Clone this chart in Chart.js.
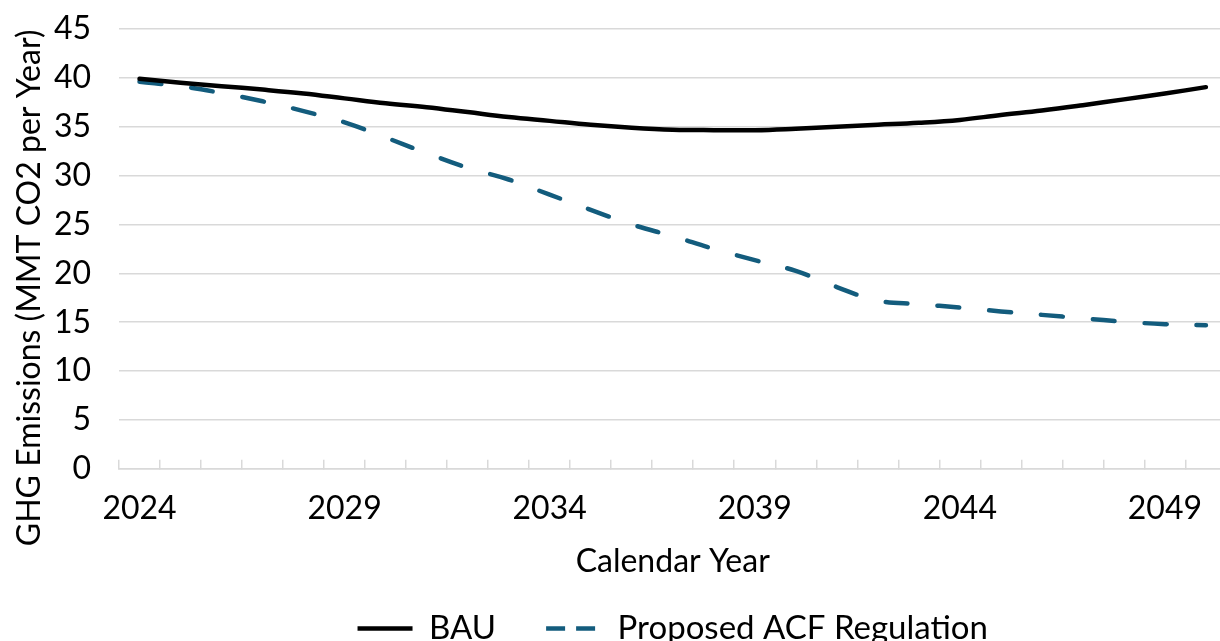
<!DOCTYPE html>
<html>
<head>
<meta charset="utf-8">
<script src="https://cdn.jsdelivr.net/npm/chart.js@4.4.1/dist/chart.umd.min.js"></script>
<style>
  html, body { margin: 0; padding: 0; background: #fff; overflow: hidden; }
  #wrap { position: relative; width: 1240px; height: 660px; }
</style>
</head>
<body>
<div id="wrap"><canvas id="ghgChart"></canvas></div>
<script>
const years = ['2024', '2025', '2026', '2027', '2028', '2029', '2030', '2031', '2032', '2033',
  '2034', '2035', '2036', '2037', '2038', '2039', '2040', '2041', '2042', '2043',
  '2044', '2045', '2046', '2047', '2048', '2049', '2050'];
const bau = [39.9, 39.5, 39.15, 38.8, 38.4, 37.9, 37.4, 37.0, 36.5, 36.0,
  35.6, 35.2, 34.9, 34.7, 34.65, 34.65, 34.8, 35.0, 35.2, 35.4,
  35.7, 36.2, 36.65, 37.2, 37.8, 38.4, 39.05];
const acf = [39.6, 39.15, 38.45, 37.6, 36.6, 35.45, 33.9, 32.3, 30.8, 29.6,
  28.05, 26.5, 25.0, 23.8, 22.5, 21.35, 20.25, 18.6, 17.2, 16.85,
  16.5, 16.1, 15.75, 15.4, 15.05, 14.8, 14.7];
const yTicks = [0, 5, 10, 15, 20, 25, 30, 35, 40, 45];
const xTitle = 'Calendar Year';
const yTitle = 'GHG Emissions (MMT CO2 per Year)';

const FONT = 'Lato, "Open Sans", sans-serif';
const FS = 32;

// y title is drawn by hand so it can sit lower than the plot centre, as in the original
const yTitlePlugin = {
  id: 'yTitle',
  afterDraw(chart) {
    const { ctx, chartArea } = chart;
    ctx.save();
    ctx.translate(30, (chartArea.top + chartArea.bottom) / 2 + 39);
    ctx.rotate(-Math.PI / 2);
    ctx.font = '32px ' + FONT;
    ctx.fillStyle = '#000';
    ctx.textAlign = 'center';
    ctx.textBaseline = 'middle';
    ctx.fillText(yTitle, 0, 0);
    ctx.restore();
  }
};

new Chart(document.getElementById('ghgChart'), {
  type: 'line',
  data: {
    labels: years,
    datasets: [
      { label: 'BAU', data: bau, borderColor: '#000', borderWidth: 4.5, pointRadius: 0, tension: 0.4, borderCapStyle: 'round', fill: false },
      { label: 'Proposed ACF Regulation', data: acf, borderColor: '#135c7d', borderWidth: 4.5, borderDash: [22, 30], borderCapStyle: 'round', pointRadius: 0, tension: 0.4, fill: false }
    ]
  },
  options: {
    responsive: true,
    maintainAspectRatio: false,
    animation: false,
    layout: { padding: { top: 29, right: 4, left: 0, bottom: 5 } },
    plugins: {
      tooltip: { enabled: false },
      legend: {
        position: 'bottom',
        fullSize: false,
        labels: {
          color: '#000',
          font: { family: FONT, size: 33 },
          usePointStyle: true,
          pointStyleWidth: 55,
          padding: 50,
          generateLabels(chart) {
            const items = Chart.defaults.plugins.legend.labels.generateLabels(chart);
            items.forEach(it => {
              it.pointStyle = 'line';
              if (it.datasetIndex === 1) it.lineDash = [19, 11];
            });
            return items;
          }
        }
      }
    },
    scales: {
      x: {
        offset: true,
        grid: { offset: true, drawOnChartArea: false, drawTicks: true, tickLength: -9, color: '#d9d9d9', lineWidth: 1.5 },
        border: { color: '#d9d9d9', width: 1.5 },
        ticks: {
          autoSkip: false, maxRotation: 0, padding: 34,
          color: '#000', font: { family: FONT, size: FS, lineHeight: 0.9 },
          callback: (v, i) => i % 5 === 0 ? years[i] : ''
        },
        title: { display: true, text: xTitle, color: '#000', font: { family: FONT, size: FS }, padding: { top: -14, bottom: -19 } }
      },
      y: {
        min: 0, max: 45,
        afterFit(scale) { scale.width = 119; scale.paddingTop = 0; scale.paddingBottom = 0; },
        afterBuildTicks(scale) { scale.ticks = yTicks.map(v => ({ value: v })); },
        grid: { color: '#d9d9d9', lineWidth: 1.5, drawTicks: false },
        border: { display: false },
        ticks: { padding: 28, color: '#000', font: { family: FONT, size: FS } }
      }
    }
  },
  plugins: [yTitlePlugin]
});
</script>
</body>
</html>
